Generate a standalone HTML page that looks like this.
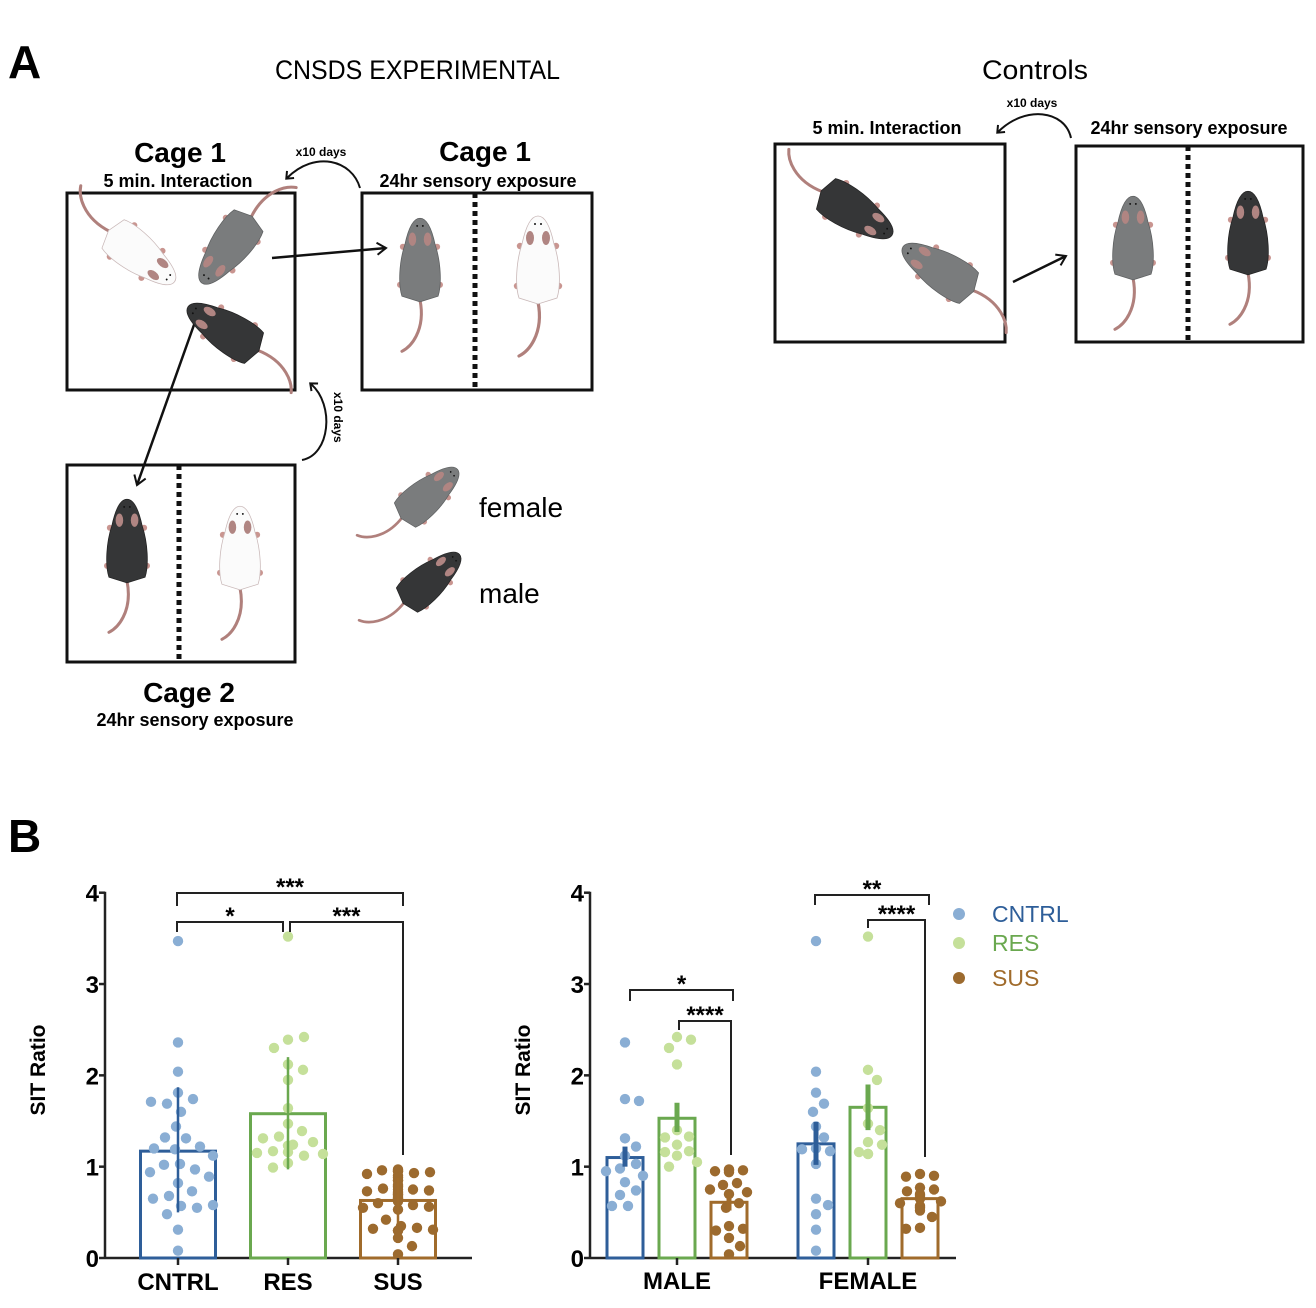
<!DOCTYPE html>
<html><head><meta charset="utf-8"><style>
html,body{margin:0;padding:0;background:#fff;}
svg{display:block;font-family:"Liberation Sans",sans-serif;}
.b{font-weight:bold;}
</style></head><body>
<svg id="fig" width="1316" height="1308" viewBox="0 0 1316 1308" xmlns="http://www.w3.org/2000/svg">
<defs>
<marker id="oa" markerWidth="14" markerHeight="14" refX="11" refY="7" orient="auto" markerUnits="userSpaceOnUse"><path d="M2,1 L11,7 L2,13" fill="none" stroke="#111" stroke-width="2"/></marker>
<marker id="ca" markerWidth="12" markerHeight="12" refX="6" refY="6" orient="auto" markerUnits="userSpaceOnUse"><path d="M1,1 L7,6 L1,11" fill="none" stroke="#111" stroke-width="2"/></marker>
</defs>
<g id="panelA">
<text x="8" y="78" font-size="46" class="b">A</text>
<text x="275" y="79" font-size="27" textLength="285" lengthAdjust="spacingAndGlyphs">CNSDS EXPERIMENTAL</text>
<text x="982" y="79" font-size="27" textLength="106" lengthAdjust="spacingAndGlyphs">Controls</text>

<text x="180" y="162" font-size="28" class="b" text-anchor="middle">Cage 1</text>
<text x="178" y="187" font-size="18" class="b" text-anchor="middle">5 min. Interaction</text>
<text x="485" y="161" font-size="28" class="b" text-anchor="middle">Cage 1</text>
<text x="478" y="187" font-size="18" class="b" text-anchor="middle">24hr sensory exposure</text>
<text x="189" y="702" font-size="28" class="b" text-anchor="middle">Cage 2</text>
<text x="195" y="726" font-size="18" class="b" text-anchor="middle">24hr sensory exposure</text>
<text x="887" y="134" font-size="18" class="b" text-anchor="middle">5 min. Interaction</text>
<text x="1189" y="134" font-size="18" class="b" text-anchor="middle">24hr sensory exposure</text>

<rect x="67" y="193" width="228" height="197" fill="none" stroke="#111" stroke-width="3"/>
<rect x="362" y="193" width="230" height="197" fill="none" stroke="#111" stroke-width="3"/>
<rect x="67" y="465" width="228" height="197" fill="none" stroke="#111" stroke-width="3"/>
<rect x="775" y="144" width="230" height="198" fill="none" stroke="#111" stroke-width="3"/>
<rect x="1076" y="146" width="227" height="196" fill="none" stroke="#111" stroke-width="3"/>
<line x1="475" y1="193" x2="475" y2="390" stroke="#111" stroke-width="5" stroke-dasharray="5,4"/>
<line x1="179" y1="465" x2="179" y2="662" stroke="#111" stroke-width="5" stroke-dasharray="5,4"/>
<line x1="1188" y1="146" x2="1188" y2="342" stroke="#111" stroke-width="5" stroke-dasharray="5,4"/>

<line x1="272" y1="258" x2="386" y2="248" stroke="#111" stroke-width="2.5" marker-end="url(#oa)"/>
<line x1="195" y1="322" x2="137" y2="485" stroke="#111" stroke-width="2.5" marker-end="url(#oa)"/>
<line x1="1013" y1="282" x2="1066" y2="256" stroke="#111" stroke-width="2.5" marker-end="url(#oa)"/>
<path d="M360,188 C352,160 315,150 287,178" fill="none" stroke="#111" stroke-width="2" marker-end="url(#ca)"/>
<text x="321" y="156" font-size="12" class="b" text-anchor="middle">x10 days</text>
<path d="M302,460 C330,455 335,405 311,384" fill="none" stroke="#111" stroke-width="2" marker-end="url(#ca)"/>
<text x="334" y="392" font-size="12" class="b" transform="rotate(90 334 392)">x10 days</text>
<path d="M1071,138 C1065,110 1025,105 998,132" fill="none" stroke="#111" stroke-width="2" marker-end="url(#ca)"/>
<text x="1032" y="107" font-size="12" class="b" text-anchor="middle">x10 days</text>

<text x="479" y="517" font-size="28">female</text>
<text x="479" y="603" font-size="28">male</text>
<g id="mice"></g>
</g>

<g id="panelB">
<text x="8" y="852" font-size="46" class="b">B</text>
<g id="chart1"></g>
<g id="chart2"></g>
<g>
<circle cx="959" cy="914" r="6" fill="#8aaed4"/>
<text x="992" y="922" font-size="23" fill="#2e5e99">CNTRL</text>
<circle cx="959" cy="943" r="6" fill="#c5e09a"/>
<text x="992" y="951" font-size="23" fill="#6aa84f">RES</text>
<circle cx="959" cy="978" r="6" fill="#9c6a2e"/>
<text x="992" y="986" font-size="23" fill="#a06b2b">SUS</text>
</g>
</g>
</svg>
<script>
const NS='http://www.w3.org/2000/svg';
// ---- chart data ----
const groups=['CNTRL','RES','SUS'];
const overallMeans=[1.17,1.58,0.63];
const overallErrLo=[0.50,0.97,0.38];
const overallErrHi=[1.87,2.20,0.88];
const overallCntrl=[3.47,2.36,2.04,1.81,1.74,1.69,1.71,1.6,1.44,1.31,1.32,1.22,1.19,1.2,1.12,1.03,1.02,0.97,0.94,0.89,0.82,0.73,0.68,0.65,0.57,0.55,0.58,0.48,0.31,0.08];
const overallRes=[3.52,2.39,2.42,2.3,2.12,2.06,1.95,1.64,1.47,1.39,1.33,1.31,1.27,1.24,1.23,1.17,1.15,1.16,1.14,1.12,1.04,0.99];
const overallSus=[0.95,0.93,0.96,0.94,0.92,0.97,0.95,0.9,0.85,0.8,0.75,0.76,0.74,0.73,0.75,0.72,0.7,0.68,0.65,0.62,0.6,0.58,0.56,0.55,0.53,0.42,0.35,0.33,0.32,0.31,0.3,0.3,0.22,0.13,0.04,0.85,0.78,0.66,0.88,0.7];
const sexes=['MALE','FEMALE'];
const sexMeans=[[1.10,1.53,0.61],[1.25,1.65,0.65]];
const sexErrLo=[[1.00,1.38,0.52],[1.02,1.40,0.58]];
const sexErrHi=[[1.22,1.70,0.72],[1.49,1.90,0.72]];
const maleCntrl=[2.36,1.74,1.72,1.31,1.22,1.12,1.03,0.98,0.95,0.9,0.83,0.74,0.69,0.57,0.57];
const maleRes=[2.42,2.39,2.3,2.12,1.4,1.33,1.32,1.24,1.17,1.16,1.12,1.05,1.0];
const maleSus=[0.97,0.96,0.95,0.94,0.96,0.82,0.8,0.75,0.72,0.7,0.6,0.55,0.35,0.32,0.3,0.22,0.13,0.04];
const femaleCntrl=[3.47,2.04,1.81,1.69,1.6,1.44,1.32,1.2,1.19,1.17,1.03,0.65,0.58,0.48,0.31,0.08];
const femaleRes=[3.52,2.06,1.95,1.64,1.47,1.4,1.27,1.24,1.16,1.14,1.14];
const femaleSus=[0.92,0.9,0.89,0.77,0.75,0.73,0.7,0.68,0.65,0.62,0.6,0.57,0.55,0.52,0.45,0.33,0.32];
const yTicks=[0,1,2,3,4];

const barCol=['#2e5e99','#6aa84f','#a06b2b'];
const dotCol=['#8aaed4','#c5e09a','#9c6a2e'];
function mk(tag,attrs,parent){const e=document.createElementNS(NS,tag);for(const k in attrs)e.setAttribute(k,attrs[k]);parent.appendChild(e);return e;}
const Y0=1258,Y4=892.7;
function yS(v){return Y0-(Y0-Y4)*v/4;}

function swarm(vals,cx,half,r,gap,parent,color,name){
  const placed=[];
  vals.forEach(v=>{
    const y=yS(v);let best=null;
    for(let s=0;s<=half&&best===null;s+=1){
      for(const o of (s===0?[0]:[s,-s])){
        if(placed.every(p=>Math.hypot(p[0]-(cx+o),p[1]-y)>=2*r+gap)){best=o;break;}
      }
    }
    if(best===null)best=0;
    placed.push([cx+best,y]);
    const c=mk('circle',{cx:cx+best,cy:y,r:r,fill:color},parent);
    
    
  });
}
function axes(g,x0,x1,title,titleX){
  const ax=mk('line',{x1:x0,y1:Y4-1,x2:x0,y2:Y0,stroke:'#222','stroke-width':2.5},g);
  
  const bx=mk('line',{x1:x0,y1:Y0,x2:x1,y2:Y0,stroke:'#222','stroke-width':2.5},g);
  
  yTicks.forEach(t=>{
    const tk=mk('line',{x1:x0-6,y1:yS(t),x2:x0,y2:yS(t),stroke:'#222','stroke-width':2.5},g);
    
    const tl=mk('text',{x:x0-6,y:yS(t)+9,'font-size':24,'font-weight':'bold','text-anchor':'end'},g);
    tl.textContent=t;
  });
  const tt=mk('text',{x:titleX,y:1070,'font-size':21,'font-weight':'bold','text-anchor':'middle',transform:'rotate(-90 '+titleX+' 1070)'},g);
  tt.textContent=title;
}
function bar(g,cx,w,mean,lo,hi,i,ew,name){
  const r=mk('rect',{x:cx-w/2,y:yS(mean),width:w,height:Y0-yS(mean),fill:'none',stroke:barCol[i],'stroke-width':3},g);
  
  return ()=>{const e=mk('line',{x1:cx,y1:yS(lo),x2:cx,y2:yS(hi),stroke:barCol[i],'stroke-width':ew},g);
  };
}
function bracket(g,x1,x2,y,l1,l2,label,name){
  const p=mk('path',{d:`M${x1},${l1} L${x1},${y} L${x2},${y} L${x2},${l2}`,fill:'none',stroke:'#222','stroke-width':2},g);
  
  const t=mk('text',{x:(x1+x2)/2,y:y+2,'font-size':24,'font-weight':'bold','text-anchor':'middle'},g);
  t.textContent=label;
}
// chart 1
(function(){
  const g=document.getElementById('chart1');
  axes(g,105,472,'SIT Ratio',45);
  const centers=[178,288,398];
  const sets=[overallCntrl,overallRes,overallSus];
  groups.forEach((n,i)=>{
    const err=bar(g,centers[i],75,overallMeans[i],overallErrLo[i],overallErrHi[i],i,2.5,'bar-'+n.toLowerCase());
    swarm(sets[i],centers[i],36,5.2,5,g,dotCol[i],'dot-'+n.toLowerCase());
    err();
    const tk=mk('line',{x1:centers[i],y1:Y0,x2:centers[i],y2:Y0+7,stroke:'#222','stroke-width':2.5},g);
    
    const tl=mk('text',{x:centers[i],y:1290,'font-size':24,'font-weight':'bold','text-anchor':'middle'},g);
    tl.textContent=n;
  });
  bracket(g,177,403,893,906,906,'***','sig-cntrl-sus');
  bracket(g,177,283,922,932,932,'*','sig-cntrl-res');
  bracket(g,290,403,922,932,1155,'***','sig-res-sus');
})();
// chart 2
(function(){
  const g=document.getElementById('chart2');
  axes(g,590,956,'SIT Ratio',530);
  const centers=[[625,677,729],[816,868,920]];
  const sets=[[maleCntrl,maleRes,maleSus],[femaleCntrl,femaleRes,femaleSus]];
  sexes.forEach((s,k)=>{
    groups.forEach((n,i)=>{
      const err=bar(g,centers[k][i],36,sexMeans[k][i],sexErrLo[k][i],sexErrHi[k][i],i,5,'bar-'+s.toLowerCase()+'-'+n.toLowerCase());
      swarm(sets[k][i],centers[k][i],22,5.2,3,g,dotCol[i],'dot-'+s.toLowerCase()+'-'+n.toLowerCase());
      err();
    });
    const cx=centers[k][1];
    const tk=mk('line',{x1:cx,y1:Y0,x2:cx,y2:Y0+7,stroke:'#222','stroke-width':2.5},g);
    
    const tl=mk('text',{x:cx,y:1289,'font-size':24,'font-weight':'bold','text-anchor':'middle'},g);
    tl.textContent=s;
  });
  bracket(g,630,733,990,1001,1001,'*','sig-male-cntrl-sus');
  bracket(g,679,731,1021,1030,1155,'****','sig-male-res-sus');
  bracket(g,815,929,895,905,905,'**','sig-female-cntrl-sus');
  bracket(g,868,925,920,928,1157,'****','sig-female-res-sus');
})();
// ---- mice illustrations ----
(function(){
  const g=document.getElementById('mice');
  const cols={grey:['#7a7c7d','#5d5f60'],black:['#353637','#222'],white:['#fbfbfb','#c9b8b8']};
  function mouse(x,y,rot,c,s,name){
    const m=mk('g',{transform:`translate(${x},${y}) rotate(${rot}) scale(${s})`},g);
    
    mk('path',{d:'M0,40 C3,55 1,68 -4,78 C-8,86 -13,91 -19,94',fill:'none',stroke:'#b0807c','stroke-width':3.2,'stroke-linecap':'round'},m);
    [[-18,-16],[18,-16],[-21,24],[21,24]].forEach(p=>mk('circle',{cx:p[0],cy:p[1],r:3.2,fill:'#c99590'},m));
    mk('path',{d:'M0,-46 C8,-46 13,-32 16,-18 C22,0 23,24 19,36 L0,42 L-19,36 C-23,24 -22,0 -16,-18 C-13,-32 -8,-46 0,-46Z',fill:cols[c][0],stroke:cols[c][1],'stroke-width':0.8},m);
    mk('ellipse',{cx:-8,cy:-24,rx:4,ry:7,fill:'#b08582'},m);
    mk('ellipse',{cx:8,cy:-24,rx:4,ry:7,fill:'#b08582'},m);
    mk('circle',{cx:-3,cy:-38,r:1,fill:'#111'},m);
    mk('circle',{cx:3,cy:-38,r:1,fill:'#111'},m);
  }
  mouse(140,255,128,'white',0.95,'mouse-white-cage1');
  mouse(228,248,217,'grey',0.95,'mouse-grey-cage1');
  mouse(225,330,-58,'black',0.95,'mouse-black-cage1');
  mouse(420,262,0,'grey',0.95,'mouse-grey-sensory');
  mouse(538,262,0,'white',1.0,'mouse-white-sensory');
  mouse(127,543,0,'black',0.95,'mouse-black-cage2');
  mouse(240,550,0,'white',0.95,'mouse-white-cage2');
  mouse(428,495,49,'grey',0.85,'legend-mouse-female');
  mouse(430,580,49,'black',0.85,'legend-mouse-male');
  mouse(855,212,122,'black',0.95,'mouse-black-controls');
  mouse(940,270,-58,'grey',0.95,'mouse-grey-controls');
  mouse(1133,240,0,'grey',0.95,'mouse-grey-controls-sensory');
  mouse(1248,235,0,'black',0.95,'mouse-black-controls-sensory');
})();
</script>
</body></html>
